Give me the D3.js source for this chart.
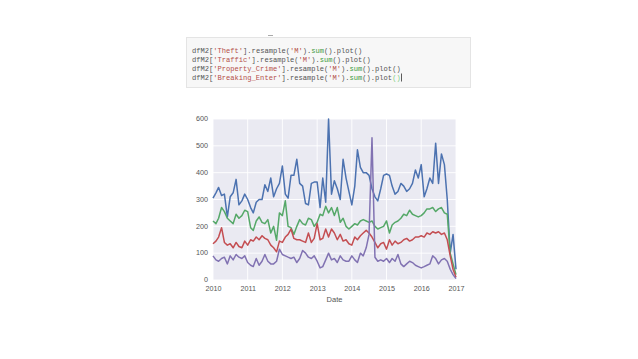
<!DOCTYPE html>
<html>
<head>
<meta charset="utf-8">
<script src="https://cdn.jsdelivr.net/npm/d3@7"></script>
<style>
  body { margin: 0; background: #fff; }
  svg { display: block; }
</style>
</head>
<body>
<div id="chart"></div>
<script>
// monthly sums, Jan 2010 .. Jan 2017
var theft = [
  305, 325, 345, 315, 320, 235, 310, 325, 375, 280, 295, 320,
  300, 270, 250, 290, 300, 300, 355, 330, 380, 310, 340, 360,
  425, 320, 305, 390, 390, 450, 360, 350, 285, 280, 360, 365,
  365, 270, 380, 290, 600, 320, 370, 340, 300, 450, 380, 330,
  280, 350, 485, 420, 400, 400, 390, 340, 310, 295, 340, 390,
  395, 390, 350, 320, 330, 360, 350, 330, 340, 360, 410, 380,
  430, 310, 340, 380, 360, 510, 360, 470, 430, 300, 100, 170,
  40
];
var traffic = [
  220, 210, 230, 270, 255, 230, 220, 210, 245, 230, 240, 260,
  255, 195, 185, 220, 235, 215, 210, 225, 175, 200, 148, 250,
  240, 295, 200, 195, 170, 200, 225, 210, 205, 230, 225, 200,
  215, 245, 240, 275, 250, 270, 240, 270, 215, 230, 200, 190,
  200, 210, 205, 220, 225, 220, 215, 220, 200, 190, 195, 200,
  220, 175, 205, 215, 220, 230, 245, 240, 260, 245, 240, 235,
  240, 250, 265, 265, 270, 255, 265, 270, 250, 245, 100, 60,
  20
];
var propertyCrime = [
  135, 145, 160, 195, 140, 130, 135, 120, 140, 125, 120, 145,
  130, 150, 145, 160, 150, 165, 155, 150, 130, 120, 105, 145,
  140, 160, 170, 190, 155, 150, 150, 145, 140, 175, 140, 155,
  210, 150, 155, 190, 160, 190, 175, 150, 170, 145, 150, 135,
  130, 160, 150, 165, 175, 185, 175, 160, 140, 120, 135, 140,
  115, 150, 130, 145, 135, 140, 150, 155, 145, 150, 160, 160,
  165, 160, 175, 170, 180, 175, 180, 170, 175, 150, 90, 40,
  10
];
var breakingEnter = [
  90, 75, 70, 80, 85, 60, 90, 75, 95, 85, 80, 90,
  65, 55, 50, 80, 55, 70, 95, 70, 60, 60, 70, 115,
  95, 90, 85, 80, 85, 65, 80, 110, 100, 85, 80, 90,
  70, 45, 50, 75, 100, 75, 80, 65, 90, 75, 70, 70,
  90, 75, 65, 100, 90, 120, 170, 530, 85, 70, 75, 70,
  80, 65, 80, 70, 95, 60, 50, 60, 70, 65, 55, 50,
  45, 50, 55, 60, 90, 80, 60, 75, 80, 70, 40, 20,
  5
];
var yTicks = [0, 100, 200, 300, 400, 500, 600];
var years = [2010, 2011, 2012, 2013, 2014, 2015, 2016, 2017];

var codeLines = [
  [["dfM2", "n"], ["[", "p"], ["'Theft'", "s"], ["].resample(", "p"], ["'M'", "s"], [").", "p"], ["sum", "g"], ["().plot()", "p"]],
  [["dfM2", "n"], ["[", "p"], ["'Traffic'", "s"], ["].resample(", "p"], ["'M'", "s"], [").", "p"], ["sum", "g"], ["().plot()", "p"]],
  [["dfM2", "n"], ["[", "p"], ["'Property_Crime'", "s"], ["].resample(", "p"], ["'M'", "s"], [").", "p"], ["sum", "g"], ["().plot()", "p"]],
  [["dfM2", "n"], ["[", "p"], ["'Breaking_Enter'", "s"], ["].resample(", "p"], ["'M'", "s"], [").", "p"], ["sum", "g"], ["().plot", "p"], ["()", "h"]]
];

var series = [
  { name: "Theft", values: theft, color: "#4C72B0" },
  { name: "Traffic", values: traffic, color: "#55A868" },
  { name: "Property_Crime", values: propertyCrime, color: "#C44E52" },
  { name: "Breaking_Enter", values: breakingEnter, color: "#8172B2" }
];

var W = 638, H = 359;
var margin = { top: 119, right: 182, bottom: 79, left: 213 },
    width = W - margin.left - margin.right,
    height = H - margin.top - margin.bottom;

var svg = d3.select("#chart").append("svg")
    .attr("width", W)
    .attr("height", H);

svg.append("rect").attr("width", W).attr("height", H).attr("fill", "#fff");

// notebook code cell
var cell = svg.append("g");
cell.append("line")
    .attr("x1", 268).attr("x2", 273).attr("y1", 35.5).attr("y2", 35.5)
    .attr("stroke", "#aaa").attr("stroke-width", 1);
cell.append("rect")
    .attr("x", 186.5).attr("y", 37.5)
    .attr("width", 284).attr("height", 50)
    .attr("fill", "#f7f7f7")
    .attr("stroke", "#e4e4e4");

var tokColor = { n: "#555", p: "#555", s: "#b5504a", g: "#3c9a3c", h: "#7ccf7c" };
var codeText = cell.selectAll(".code")
    .data(codeLines)
    .enter().append("text")
    .attr("class", "code")
    .attr("x", 192)
    .attr("y", function(d, i) { return 53 + i * 9; })
    .style("font-family", "'Liberation Mono', 'DejaVu Sans Mono', monospace")
    .style("font-size", "7.1px")
    .attr("xml:space", "preserve");
codeText.selectAll("tspan")
    .data(function(d) { return d; })
    .enter().append("tspan")
    .attr("fill", function(d) { return tokColor[d[1]]; })
    .text(function(d) { return d[0]; });
// cursor
cell.append("line")
    .attr("x1", 401.5).attr("x2", 401.5)
    .attr("y1", 73.5).attr("y2", 81.5)
    .attr("stroke", "#333").attr("stroke-width", 0.8);

// plot
var g = svg.append("g")
    .attr("transform", "translate(" + margin.left + "," + margin.top + ")");

var dates = theft.map(function(v, i) { return new Date(2010, i, 1); });

var x = d3.scaleTime()
    .domain([new Date(2010, 0, 1), new Date(2017, 0, 1)])
    .range([0, width]);
var y = d3.scaleLinear()
    .domain([0, 600])
    .range([height, 0]);

g.append("rect")
    .attr("width", width)
    .attr("height", height)
    .attr("fill", "#EAEAF2");

g.append("g")
    .selectAll("line")
    .data(yTicks)
    .enter().append("line")
    .attr("x1", 0).attr("x2", width)
    .attr("y1", function(d) { return y(d); })
    .attr("y2", function(d) { return y(d); })
    .attr("stroke", "#fff").attr("stroke-width", 0.9);

g.append("g")
    .selectAll("line")
    .data(years)
    .enter().append("line")
    .attr("y1", 0).attr("y2", height)
    .attr("x1", function(d) { return x(new Date(d, 0, 1)); })
    .attr("x2", function(d) { return x(new Date(d, 0, 1)); })
    .attr("stroke", "#fff").attr("stroke-width", 0.9);

var line = d3.line()
    .x(function(d, i) { return x(dates[i]); })
    .y(function(d) { return y(d); });

g.append("g")
    .selectAll("path")
    .data(series)
    .enter().append("path")
    .attr("d", function(d) { return line(d.values); })
    .attr("fill", "none")
    .attr("stroke", function(d) { return d.color; })
    .attr("stroke-width", 1.5)
    .attr("stroke-linejoin", "round");

var yAxis = g.append("g")
    .call(d3.axisLeft(y).tickValues(yTicks).tickSize(0).tickPadding(5));
yAxis.selectAll(".tick text").attr("dy", "0.25em");
var xAxis = g.append("g")
    .attr("transform", "translate(0," + height + ")")
    .call(d3.axisBottom(x)
        .tickValues(years.map(function(d) { return new Date(d, 0, 1); }))
        .tickFormat(d3.timeFormat("%Y"))
        .tickSize(0).tickPadding(6));
g.selectAll(".domain").remove();
g.selectAll(".tick text")
    .style("font-family", "'Liberation Sans', Arial, sans-serif")
    .style("font-size", "7.2px")
    .attr("fill", "#555");

g.append("text")
    .attr("x", width / 2)
    .attr("y", height + 22)
    .attr("text-anchor", "middle")
    .style("font-family", "'Liberation Sans', Arial, sans-serif")
    .style("font-size", "7.5px")
    .attr("fill", "#555")
    .text("Date");
</script>
</body>
</html>
